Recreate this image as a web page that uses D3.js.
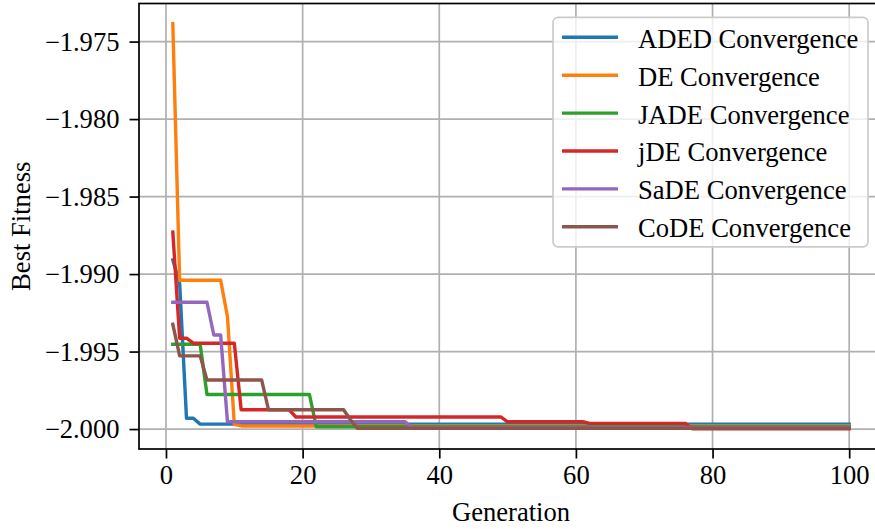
<!DOCTYPE html>
<html><head><meta charset="utf-8">
<script src="https://cdn.jsdelivr.net/npm/d3@7"></script>
<style>html,body{margin:0;padding:0;background:#fff;}svg{display:block;}</style>
</head><body>
<svg id="chart" width="875" height="529"></svg>
<script>
// ---- data (keypoints: generation, best fitness) ----
const seriesNames = ["ADED Convergence","DE Convergence","JADE Convergence","jDE Convergence","SaDE Convergence","CoDE Convergence"];
const colors = ["#1f77b4","#ff7f0e","#2ca02c","#d62728","#9467bd","#8c564b"];

const adedGen = [1, 2, 3, 4, 5, 100];
const adedVal = [-1.98908, -1.9906, -1.9993, -1.9993, -1.99968, -1.99968];

const deGen = [1, 2, 8, 9, 10, 11, 100];
const deVal = [-1.97385, -1.9904, -1.9904, -1.99275, -1.9997, -1.9998, -1.9998];

const jadeGen = [1, 5, 6, 21, 22, 100];
const jadeVal = [-1.99453, -1.99453, -1.99777, -1.99777, -1.99985, -1.99985];

const jdeGen = [1, 2, 3, 4, 10, 11, 18, 19, 49, 50, 61, 62, 76, 77, 100];
const jdeVal = [-1.98729, -1.99414, -1.99414, -1.99446, -1.99446, -1.99875, -1.99875, -1.99922, -1.99922, -1.99953, -1.99953, -1.99963, -1.99963, -1.99998, -1.99998];

const sadeGen = [1, 6, 7, 8, 9, 35, 36, 100];
const sadeVal = [-1.99182, -1.99182, -1.99393, -1.99393, -1.99953, -1.99953, -1.9999, -1.9999];

const codeGen = [1, 2, 5, 6, 14, 15, 26, 27, 28, 100];
const codeVal = [-1.99324, -1.99528, -1.99528, -1.99683, -1.99683, -1.99875, -1.99875, -1.9994, -1.99995, -1.99995];

const xTicks = [0, 20, 40, 60, 80, 100];
const yTicks = [-2.000, -1.995, -1.990, -1.985, -1.980, -1.975];

// ---- layout ----
const gens = [adedGen, deGen, jadeGen, jdeGen, sadeGen, codeGen];
const vals = [adedVal, deVal, jadeVal, jdeVal, sadeVal, codeVal];
const series = seriesNames.map((n, i) => ({name: n, color: colors[i], pts: gens[i].map((g, j) => [g, vals[i][j]])}));

const L = 139, R = 883, T = 3.5, B = 449;
const FONT = "'Liberation Serif','Times New Roman',serif";
const FS = 26.6;

const allG = gens.flat(), allV = vals.flat();
const gx0 = d3.min(allG), gx1 = d3.max(allG), gpad = (gx1 - gx0) * 0.05;
const vy0 = d3.min(allV), vy1 = d3.max(allV), vpad = (vy1 - vy0) * 0.05;

const x = d3.scaleLinear().domain([gx0 - gpad, gx1 + gpad]).range([L, R]);
const y = d3.scaleLinear().domain([vy0 - vpad, vy1 + vpad]).range([B, T]);

const svg = d3.select("#chart");
svg.append("rect").attr("width", 875).attr("height", 529).attr("fill", "#fff");

// grid
const grid = svg.append("g");
grid.selectAll(".gx").data(xTicks).join("line")
  .attr("x1", d => x(d)).attr("x2", d => x(d)).attr("y1", T).attr("y2", B)
  .attr("stroke", "#b0b0b0").attr("stroke-width", 1.7);
grid.selectAll(".gy").data(yTicks).join("line")
  .attr("x1", L).attr("x2", R).attr("y1", d => y(d)).attr("y2", d => y(d))
  .attr("stroke", "#b0b0b0").attr("stroke-width", 1.7);

// lines
const line = d3.line().x(d => x(d[0])).y(d => y(d[1]));
svg.append("g").selectAll("path").data(series).join("path")
  .attr("d", d => line(d.pts)).attr("fill", "none")
  .attr("stroke", d => d.color).attr("stroke-width", 3.4)
  .attr("stroke-linejoin", "round").attr("stroke-linecap", "square");

// axes
const fmt = d => d3.format(".3f")(d).replace("-", "\u2212");
const xAxis = d3.axisBottom(x).tickValues(xTicks).tickSize(9.5).tickPadding(7).tickFormat(d3.format("d"));
const yAxis = d3.axisLeft(y).tickValues(yTicks).tickSize(9.5).tickPadding(10).tickFormat(fmt);

const gxA = svg.append("g").attr("transform", `translate(0,${B})`).call(xAxis);
const gyA = svg.append("g").attr("transform", `translate(${L},0)`).call(yAxis);
[gxA, gyA].forEach(g => {
  g.select(".domain").remove();
  g.selectAll(".tick line").attr("stroke", "#000").attr("stroke-width", 1.7);
  g.selectAll(".tick text").attr("font-family", FONT).attr("font-size", FS).attr("fill", "#000");
});

// spines
svg.append("rect").attr("x", L).attr("y", T).attr("width", R - L).attr("height", B - T)
  .attr("fill", "none").attr("stroke", "#000").attr("stroke-width", 1.7);

// axis labels
svg.append("text").attr("x", (L + R) / 2).attr("y", 521).attr("text-anchor", "middle")
  .attr("font-family", FONT).attr("font-size", FS).text("Generation");
svg.append("text").attr("transform", `translate(30,${(T + B) / 2}) rotate(-90)`).attr("text-anchor", "middle")
  .attr("font-family", FONT).attr("font-size", FS).text("Best Fitness");

// legend
const lg = svg.append("g");
lg.append("rect").attr("x", 553).attr("y", 17.3).attr("width", 315).attr("height", 229.5)
  .attr("rx", 5).attr("ry", 5).attr("fill", "#fff").attr("fill-opacity", 0.8)
  .attr("stroke", "#cccccc").attr("stroke-width", 1.7);
const rowY = i => 37.3 + i * 37.9;
lg.selectAll(".lh").data(series).join("line")
  .attr("x1", 562).attr("x2", 618).attr("y1", (d, i) => rowY(i)).attr("y2", (d, i) => rowY(i))
  .attr("stroke", d => d.color).attr("stroke-width", 3.4);
lg.selectAll(".lt").data(series).join("text")
  .attr("x", 638).attr("y", (d, i) => rowY(i) + 10.4)
  .attr("font-family", FONT).attr("font-size", FS).attr("fill", "#000").text(d => d.name);
</script>
</body></html>
